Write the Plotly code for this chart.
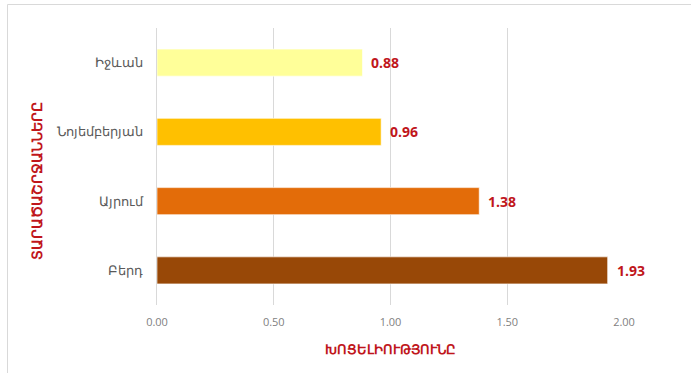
import plotly.graph_objects as go

# Regions (top to bottom as shown) and their vulnerability scores
regions = ["Իջևան", "Նոյեմբերյան", "Այրում", "Բերդ"]
values = [0.88, 0.96, 1.38, 1.93]
colors = ["#FFFF99", "#FFC000", "#E36C09", "#984807"]

tick_vals = [0, 0.5, 1.0, 1.5, 2.0]
tick_text = ["0.00", "0.50", "1.00", "1.50", "2.00"]

x_title = "ԽՈՑԵԼԻՈՒԹՅՈՒՆԸ"
y_title = "ՏԱՐԱԾԱՇՐՋԱՆՆԵՐԸ"

W, H = 691, 373
ml, mr, mt, mb = 157, 67, 28, 68
pw, ph = W - ml - mr, H - mt - mb

RED = "#C0161B"
FONT = "Open Sans, sans-serif"

fig = go.Figure(
    go.Bar(
        y=regions,
        x=values,
        orientation="h",
        marker=dict(color=colors, line=dict(color="rgba(255,255,255,0.6)", width=1)),
        width=0.39,
        hoverinfo="skip",
    )
)

# Value labels to the right of each bar
for r, v in zip(regions, values):
    fig.add_annotation(
        x=v, y=r, xref="x", yref="y",
        text=f"{v:.2f}", showarrow=False,
        xanchor="left", xshift=7,
        font=dict(family=FONT, size=14, color=RED, weight="bold"),
    )

fig.update_layout(
    width=W,
    height=H,
    margin=dict(l=ml, r=mr, t=mt, b=mb),
    paper_bgcolor="white",
    plot_bgcolor="white",
    showlegend=False,
    font=dict(family=FONT, color="#595959"),
    xaxis=dict(
        range=[0, 2.0],
        tickvals=tick_vals,
        ticktext=tick_text,
        showgrid=True,
        gridcolor="#D9D9D9",
        gridwidth=1,
        zeroline=False,
        showline=False,
        ticks="",
        tickfont=dict(size=11, color="#7F7F7F"),
        ticklabelstandoff=9,
        title=dict(
            text=x_title,
            font=dict(size=13, color=RED, weight="bold"),
            standoff=16,
        ),
    ),
    yaxis=dict(
        categoryorder="array",
        categoryarray=regions[::-1],
        showgrid=False,
        zeroline=False,
        showline=True,
        linecolor="#D9D9D9",
        linewidth=1,
        ticks="",
        ticklabelstandoff=11,
        tickfont=dict(size=12.5, color="#595959"),
    ),
    bargap=0.61,
)

def px_x(p):
    return (p - ml) / pw

def px_y(p):
    return (H - mb - p) / ph

# Vertical axis title
fig.add_annotation(
    x=px_x(36), y=px_y(181), xref="paper", yref="paper",
    text=y_title, textangle=-90, showarrow=False,
    xanchor="center", yanchor="middle",
    font=dict(family=FONT, size=14, color=RED, weight="bold"),
)

# Chart frame: left and top edges
frame = dict(color="#D9D9D9", width=1)
fig.add_shape(type="line", xref="paper", yref="paper",
              x0=px_x(7.5), x1=px_x(W + 5), y0=px_y(4.5), y1=px_y(4.5), line=frame)
fig.add_shape(type="line", xref="paper", yref="paper",
              x0=px_x(7.5), x1=px_x(7.5), y0=px_y(4.5), y1=px_y(H + 5), line=frame)

fig.write_html("out.html")
